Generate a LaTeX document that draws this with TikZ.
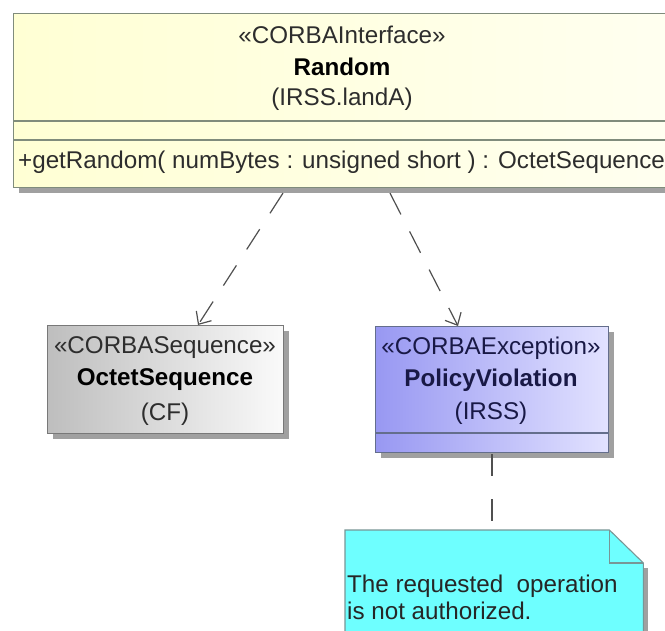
\documentclass[tikz,border=0pt]{standalone}
\usepackage{fontspec}
\setmainfont{Liberation Sans}
\usetikzlibrary{arrows.meta,shadows,calc}
\definecolor{ifillA}{RGB}{255,255,212}
\definecolor{ifillB}{RGB}{255,255,240}
\definecolor{iline}{RGB}{128,140,124}
\definecolor{sfillA}{RGB}{190,190,190}
\definecolor{sfillB}{RGB}{250,250,250}
\definecolor{sline}{RGB}{120,120,120}
\definecolor{efillA}{RGB}{152,152,242}
\definecolor{efillB}{RGB}{226,226,255}
\definecolor{eline}{RGB}{100,110,140}
\definecolor{nfill}{RGB}{110,255,255}
\definecolor{nline}{RGB}{120,150,150}
\definecolor{shad}{RGB}{160,160,160}
\definecolor{conn}{RGB}{80,80,80}
\definecolor{stxt}{RGB}{45,45,45}
\definecolor{etxt}{RGB}{25,25,70}
\begin{document}
\begin{tikzpicture}[x=1pt,y=-1pt,
 lbl/.style={inner sep=0pt, font=\fontsize{24.2}{28}\selectfont, text=stxt},
 lblb/.style={inner sep=0pt, font=\fontsize{24.2}{28}\selectfont\bfseries, text=black},
 umlbox/.style={rectangle, draw, line width=1.1pt, inner sep=0pt, anchor=north west,
   drop shadow={shadow xshift=5pt, shadow yshift=-5pt, fill=shad, opacity=1}},
 dep/.style={draw=conn, line width=1.2pt, dash pattern=on 24pt off 19pt,
   -{Straight Barb[length=10pt,width=18pt,line width=1.2pt]}},
 anchorline/.style={draw=conn, line width=1.2pt, dash pattern=on 22pt off 23pt}
]
\clip (0,0) rectangle (665,631);
\fill[white] (0,0) rectangle (665,631);

% Interface box
\node[umlbox, left color=ifillA, right color=ifillB, draw=iline,
  minimum width=658pt, minimum height=174pt] (random) at (13,13) {};
\draw[iline, line width=1.1pt] ($(random.north west)+(0,108)$) -- ($(random.north east)+(0,108)$);
\draw[iline, line width=1.1pt] ($(random.north west)+(0,127)$) -- ($(random.north east)+(0,127)$);
\node[lbl] (rst) at (342,35) {«CORBAInterface»};
\node[lblb] (rname) at (342,67) {Random};
\node[lbl] (rpkg) at (342,99) {(IRSS.landA)};
\node[lbl, anchor=west] (rop) at (18,162) {+getRandom( numBytes : unsigned short ) : OctetSequence};

% OctetSequence
\node[umlbox, left color=sfillA, right color=sfillB, draw=sline,
  minimum width=236pt, minimum height=108pt] (octet) at (47,325) {};
\node[lbl] (ost) at (165,348) {«CORBASequence»};
\node[lblb] (oname) at (165,380) {OctetSequence};
\node[lbl] (opkg) at (165,414) {(CF)};

% PolicyViolation
\node[umlbox, left color=efillA, right color=efillB, draw=eline,
  minimum width=233pt, minimum height=126pt] (pv) at (375,326) {};
\draw[eline, line width=1.1pt] ($(pv.north west)+(0,107)$) -- ($(pv.north east)+(0,107)$);
\node[lbl, text=etxt] (pst) at (491,348) {«CORBAException»};
\node[lblb, text=etxt] (pname) at (491,380) {PolicyViolation};
\node[lbl, text=etxt] (ppkg) at (491,413) {(IRSS)};

% Note
\node[inner sep=0pt, minimum width=298pt, minimum height=110pt, anchor=north west] (note) at (345,530) {};
\fill[shad] ($(note.north east)+(5,38)$) rectangle ($(note.south east)+(0,5)$);
\filldraw[fill=nfill, draw=nline, line width=1.1pt]
  (note.north west) -- ($(note.north east)+(-34,0)$) -- ($(note.north east)+(0,33)$)
  -- (note.south east) -- (note.south west) -- cycle;
\draw[nline, line width=1.1pt] ($(note.north east)+(-34,0)$) |- ($(note.north east)+(0,33)$);
\node[lbl, anchor=base west, text=black!85] (n1) at (347,592) {The requested\ \ operation};
\node[lbl, anchor=base west, text=black!85] (n2) at (347,619) {is not authorized.};

% Connectors
\draw[dep] ($(random.south west)+(270,5)$) -- ($(octet.north west)+(151,0)$);
\draw[dep] ($(random.south west)+(377,5)$) -- ($(pv.north west)+(83,0)$);
\draw[anchorline] ($(pv.south)+(0,1)$) -- (pv.south |- note.north);
\end{tikzpicture}
\end{document}
